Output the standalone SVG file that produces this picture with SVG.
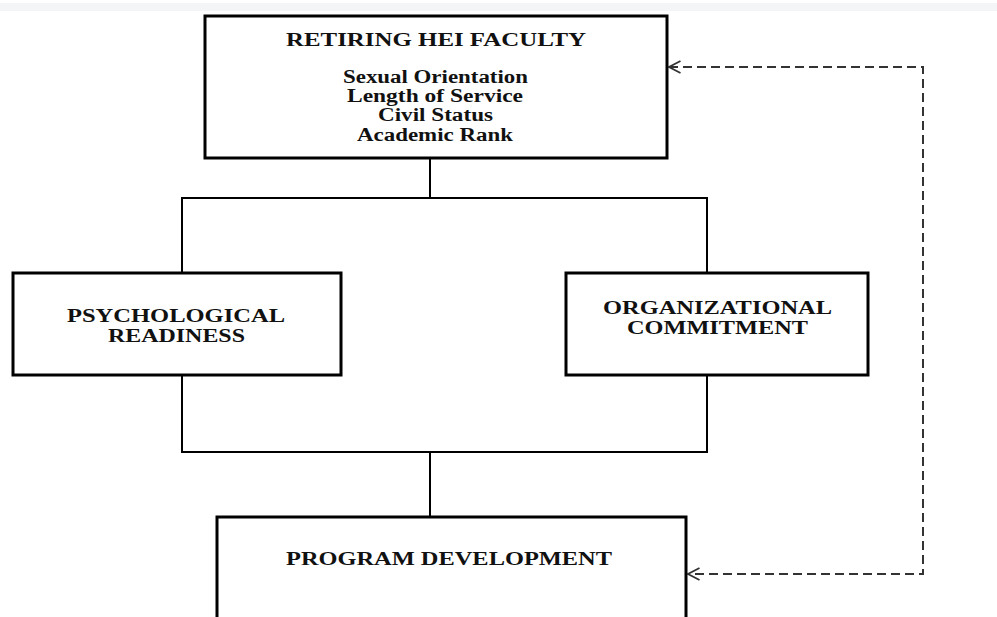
<svg xmlns="http://www.w3.org/2000/svg" width="997" height="617" viewBox="0 0 997 617">
<defs>
<style>
.box{fill:#fff;stroke:#000;stroke-width:3}
.ln{fill:none;stroke:#000;stroke-width:2}
.dash{fill:none;stroke:#333;stroke-width:2;stroke-dasharray:9 5}
.t{font-family:"Liberation Serif","Times New Roman",serif;font-weight:bold;fill:#111;text-anchor:middle;font-size:18px}
</style>
<marker id="open" viewBox="0 0 14 14" refX="1.5" refY="7" markerWidth="14" markerHeight="14" markerUnits="userSpaceOnUse" orient="0">
<path d="M13,1 L1.5,7 L13,13" fill="none" stroke="#333" stroke-width="1.8"/>
</marker>
</defs>
<rect x="0" y="0" width="997" height="617" fill="#fff"/>
<rect x="0" y="3" width="997" height="8" fill="#f4f5f7"/>
<g id="connectors">
<polyline class="ln" points="430,158 430,198"/>
<polyline class="ln" points="182,273 182,198 707,198 707,273"/>
<polyline class="ln" points="182,375 182,452 707,452 707,375"/>
<polyline class="ln" points="430,452 430,517"/>
<polyline class="dash" points="669,67 923,67 923,574 688,574" marker-start="url(#open)" marker-end="url(#open)"/>
</g>
<g id="retiring">
<rect class="box" x="205" y="16" width="462" height="142"/>
<text class="t" x="436" y="46" textLength="300" lengthAdjust="spacingAndGlyphs">RETIRING HEI FACULTY</text>
<text class="t" x="435.5" y="83" textLength="185" lengthAdjust="spacingAndGlyphs">Sexual Orientation</text>
<text class="t" x="435" y="102" textLength="176" lengthAdjust="spacingAndGlyphs">Length of Service</text>
<text class="t" x="435.5" y="121" textLength="115" lengthAdjust="spacingAndGlyphs">Civil Status</text>
<text class="t" x="435" y="141" textLength="156" lengthAdjust="spacingAndGlyphs">Academic Rank</text>
</g>
<g id="psych">
<rect class="box" x="13" y="273" width="328" height="102"/>
<text class="t" x="176" y="322" textLength="218" lengthAdjust="spacingAndGlyphs">PSYCHOLOGICAL</text>
<text class="t" x="176.5" y="342" textLength="137" lengthAdjust="spacingAndGlyphs">READINESS</text>
</g>
<g id="org">
<rect class="box" x="566" y="273" width="302" height="102"/>
<text class="t" x="717.5" y="314" textLength="229" lengthAdjust="spacingAndGlyphs">ORGANIZATIONAL</text>
<text class="t" x="717.5" y="334" textLength="181" lengthAdjust="spacingAndGlyphs">COMMITMENT</text>
</g>
<g id="program">
<rect class="box" x="217" y="517" width="469" height="110"/>
<text class="t" x="449" y="565" textLength="326" lengthAdjust="spacingAndGlyphs">PROGRAM DEVELOPMENT</text>
</g>
</svg>
